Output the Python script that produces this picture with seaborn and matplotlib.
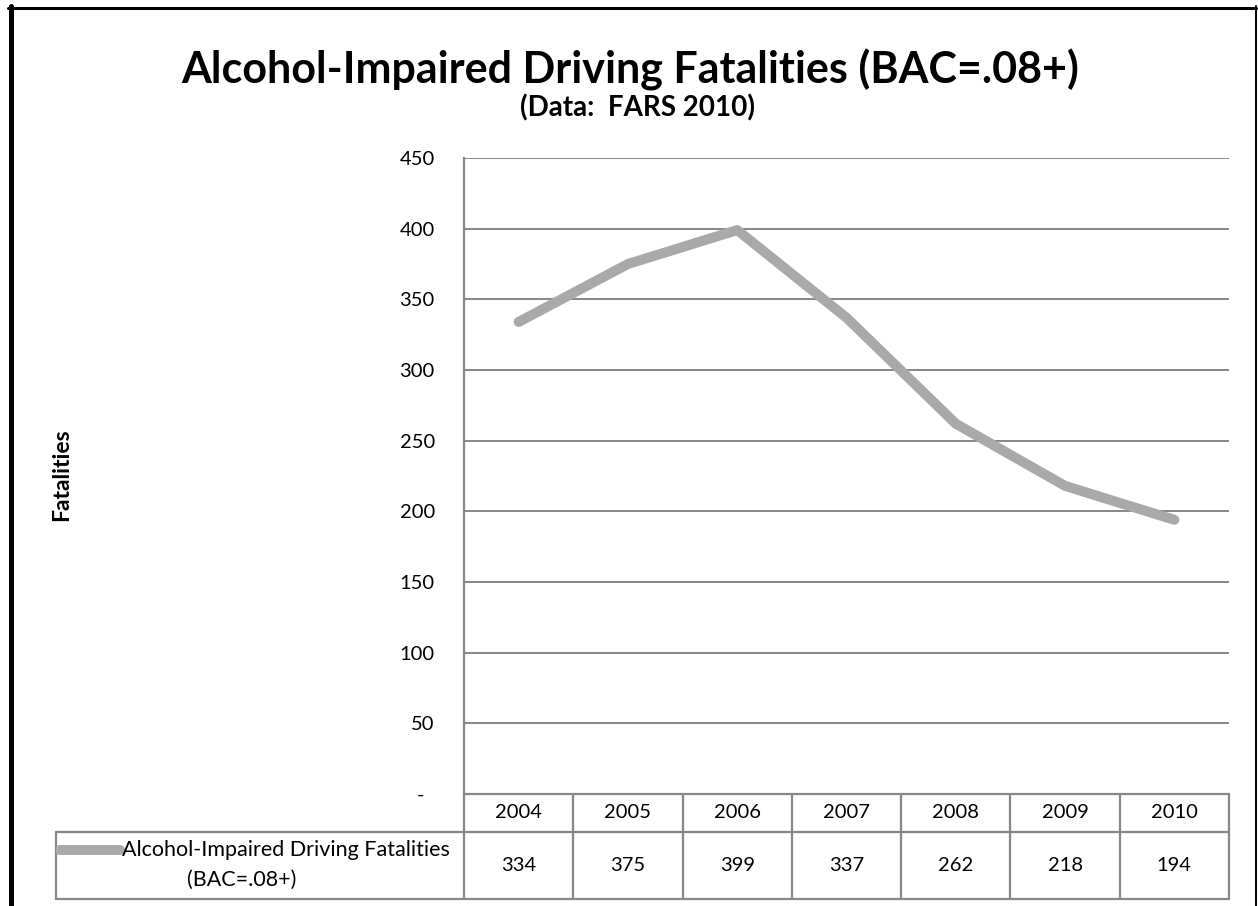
import numpy as np
import pandas as pd
import matplotlib
matplotlib.use("Agg")
import matplotlib.pyplot as plt
import seaborn as sns
from matplotlib.lines import Line2D

# Chart data
years = ["2004", "2005", "2006", "2007", "2008", "2009", "2010"]
fatalities = [334, 375, 399, 337, 262, 218, 194]
series_name = "Alcohol-Impaired Driving Fatalities (BAC=.08+)"
y_ticks = [0, 50, 100, 150, 200, 250, 300, 350, 400, 450]
y_tick_labels = ["-  ", "50", "100", "150", "200", "250", "300", "350", "400", "450"]

data = pd.DataFrame({"pos": np.arange(len(years)), "year": years, "value": fatalities})

sns.set_style("white")
plt.rcParams["font.family"] = ["Lato", "DejaVu Sans"]
plt.rcParams["text.color"] = "black"
plt.rcParams["ytick.color"] = "black"

W, H = 1258, 906
fig = plt.figure(figsize=(W / 100, H / 100), dpi=100)

line_grey = "#a9a9a9"
grid_grey = "#878787"

# plot area in pixels: left 464, right 1229, top 158, bottom 794
ax = fig.add_axes([464 / W, 1 - 794 / H, (1229 - 464) / W, (794 - 158) / H])
sns.lineplot(data=data, x="pos", y="value", ax=ax, color=line_grey,
             linewidth=7.2, solid_capstyle="round", solid_joinstyle="round")
ax.set_xlim(-0.5, len(years) - 0.5)
ax.set_ylim(0, 450)
ax.set_yticks(y_ticks)
ax.set_yticklabels(y_tick_labels, fontsize=14.5)
ax.set_xticks([])
ax.set_xlabel("")
ax.set_ylabel("")
ax.tick_params(axis="y", length=0, pad=21)
for yv in y_ticks[1:]:
    ax.axhline(yv, color=grid_grey, linewidth=1.4, zorder=0)
for s in ["top", "right", "bottom"]:
    ax.spines[s].set_visible(False)
ax.spines["left"].set_color(grid_grey)
ax.spines["left"].set_linewidth(1.6)

# data table below the plot (same category scale as the plot)
col_w = (1229 - 464) / len(years)
left_x = -0.5 - (464 - 56) / col_w
tax = fig.add_axes([56 / W, 1 - 899 / H, (1229 - 56) / W, (899 - 794) / H])
tax.set_xlim(left_x, len(years) - 0.5)
tax.set_ylim(0, 1)
tax.axis("off")
mid = (899 - 832) / (899 - 794)
kw = dict(color=grid_grey, linewidth=1.6, clip_on=False)
tax.plot([-0.5, len(years) - 0.5], [1, 1], **kw)
tax.plot([left_x, len(years) - 0.5], [mid, mid], **kw)
tax.plot([left_x, len(years) - 0.5], [0, 0], **kw)
tax.plot([left_x, left_x], [0, mid], **kw)
for k in range(len(years) + 1):
    tax.plot([k - 0.5, k - 0.5], [0, 1], **kw)
for i, (yr, v) in enumerate(zip(years, fatalities)):
    tax.text(i, (1 + mid) / 2, yr, ha="center", va="center", fontsize=14.5)
    tax.text(i, mid / 2, str(v), ha="center", va="center", fontsize=14.5)

# legend key + series name in the table row header
key_x0 = left_x + 4 / col_w
key_x1 = left_x + 64 / col_w
key_y = (899 - 850) / (899 - 794)
tax.add_line(Line2D([key_x0, key_x1], [key_y, key_y], color=line_grey,
                    linewidth=7.2, solid_capstyle="round"))
name1, name2 = "Alcohol-Impaired Driving Fatalities", "(BAC=.08+)"
tax.text(key_x1 + 2 / col_w, key_y, name1, ha="left", va="center", fontsize=15.5)
tax.text(left_x + (242 - 56) / col_w, (899 - 880) / (899 - 794), name2,
         ha="center", va="center", fontsize=15.5)

# titles
fig.text(630 / W, 1 - 70 / H, "Alcohol-Impaired Driving Fatalities (BAC=.08+)",
         ha="center", va="center", fontsize=31, fontweight="bold")
fig.text(638 / W, 1 - 108 / H, "(Data:  FARS 2010)",
         ha="center", va="center", fontsize=20, fontweight="bold")
fig.text(62 / W, 1 - 475 / H, "Fatalities", ha="center", va="center",
         rotation=90, fontsize=16.5, fontweight="bold")

# outer chart border
fig.add_artist(Line2D([10.5 / W, 10.5 / W], [0, 1 - 6 / H], color="black", linewidth=3.6,
                      transform=fig.transFigure))
fig.add_artist(Line2D([8 / W, 1256 / W], [1 - 7.5 / H, 1 - 7.5 / H], color="black",
                      linewidth=2.2, transform=fig.transFigure))
fig.add_artist(Line2D([1256 / W, 1256 / W], [0, 1 - 6 / H], color="black", linewidth=1.4,
                      transform=fig.transFigure))

fig.savefig("out.png", dpi=100)
